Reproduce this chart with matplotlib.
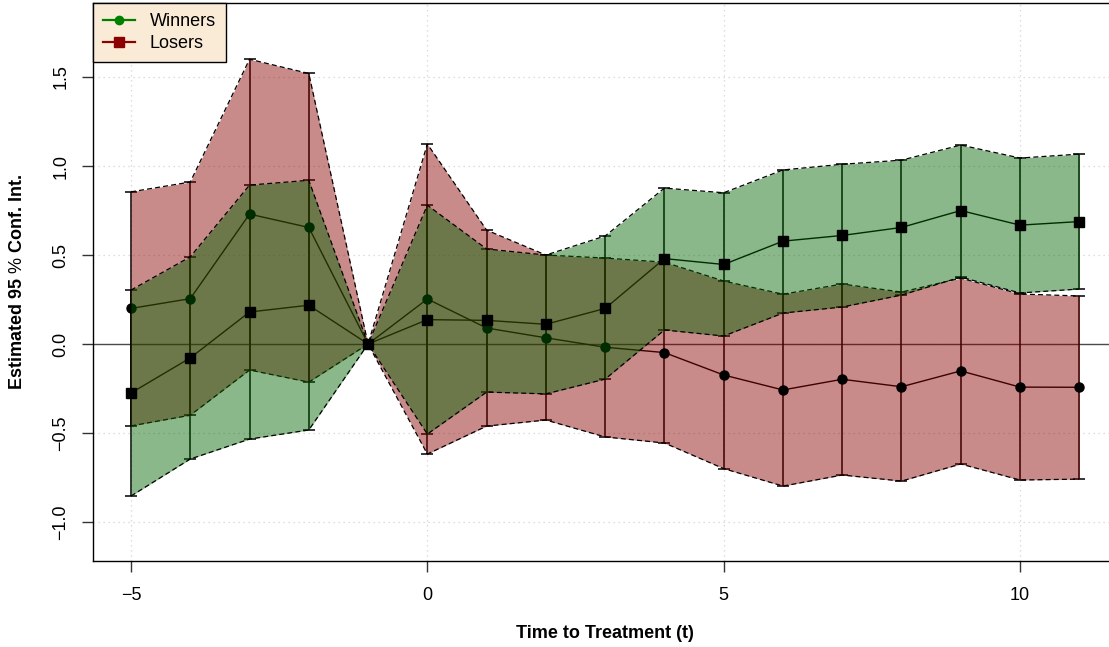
import numpy as np
import matplotlib
matplotlib.use("Agg")
import matplotlib.pyplot as plt
from matplotlib.lines import Line2D

plt.rcParams['font.family'] = ['Liberation Sans', 'DejaVu Sans']
plt.rcParams['mathtext.fontset'] = 'custom'
plt.rcParams['mathtext.rm'] = 'Liberation Sans'
plt.rcParams['mathtext.it'] = 'Liberation Sans:italic'

# Event-time periods relative to treatment
t = np.arange(-5, 12)

# Winners: point estimates and 95% CI bounds
win_est = [0.20, 0.255, 0.73, 0.655, 0.0, 0.253, 0.09, 0.035, -0.018, -0.048,
           -0.174, -0.258, -0.198, -0.240, -0.151, -0.242, -0.243]
win_lo = [-0.46, -0.40, -0.146, -0.214, 0.0, -0.618, -0.461, -0.427, -0.522, -0.556,
          -0.70, -0.798, -0.736, -0.77, -0.674, -0.764, -0.759]
win_hi = [0.855, 0.91, 1.60, 1.52, 0.0, 1.124, 0.64, 0.50, 0.483, 0.46,
          0.354, 0.28, 0.337, 0.292, 0.37, 0.281, 0.27]

# Losers: point estimates and 95% CI bounds
los_est = [-0.275, -0.078, 0.18, 0.218, 0.0, 0.137, 0.133, 0.111, 0.20, 0.48,
           0.447, 0.578, 0.61, 0.655, 0.75, 0.668, 0.688]
los_lo = [-0.854, -0.646, -0.534, -0.483, 0.0, -0.506, -0.27, -0.28, -0.197, 0.079,
          0.045, 0.174, 0.208, 0.275, 0.376, 0.287, 0.309]
los_hi = [0.303, 0.49, 0.893, 0.92, 0.0, 0.78, 0.534, 0.50, 0.607, 0.876,
          0.85, 0.978, 1.01, 1.033, 1.118, 1.045, 1.067]

W, H = 1109, 647
fig = plt.figure(figsize=(W / 100, H / 100), dpi=100)
ax = fig.add_axes([93 / W, (H - 561) / H, 1024 / W, 558 / H])
ax.set_xlim(-5.641, 11.636)
ax.set_ylim(-1.219, 1.916)

ax.set_xticks([-5, 0, 5, 10])
ax.set_yticks([-1.0, -0.5, 0.0, 0.5, 1.0, 1.5])
ax.set_axisbelow(True)
ax.grid(True, color='#d3d3d3', linestyle=(0, (1, 3)), lw=0.9)
ax.axhline(0, color='#4a4a4a', lw=1.0, zorder=1.8)

def bars(est, lo, hi):
    lo, hi = np.asarray(lo), np.asarray(hi)
    ax.vlines(t, lo, hi, color='black', lw=1.1, zorder=2)
    m = hi > lo
    ax.plot(t[m], lo[m], ls='none', marker='_', ms=9, mew=1.1, color='black', zorder=2)
    ax.plot(t[m], hi[m], ls='none', marker='_', ms=9, mew=1.1, color='black', zorder=2)
    ax.plot(t, est, color='black', lw=1.0, zorder=2)

def band(lo, hi, col, z):
    ax.fill_between(t, lo, hi, color=col, alpha=0.46, lw=0, zorder=z)
    for b in (lo, hi):
        ax.plot(t, b, color='black', lw=0.9, ls=(0, (4, 2.5)), zorder=z)

bars(win_est, win_lo, win_hi)
bars(los_est, los_lo, los_hi)

band(win_lo, win_hi, '#8b0000', 3)
ax.plot(t, win_est, ls='none', marker='o', ms=6.5, color='black', zorder=4)
band(los_lo, los_hi, '#006400', 5)
ax.plot(t, los_est, ls='none', marker='s', ms=7.8, color='black', zorder=6)

for s in ax.spines.values():
    s.set_color('black')
    s.set_linewidth(1.0)

ax.tick_params(axis='both', length=8, width=1.0, labelsize=13, color='#333333')
ax.tick_params(axis='x', pad=11)
ax.tick_params(axis='y', pad=9)
for lab in ax.get_yticklabels():
    lab.set_rotation(90)
    lab.set_va('center')

fig.text(605 / W, 1 - 634 / H, 'Time to Treatment (t)', ha='center', va='center',
         fontsize=13, fontweight='bold')
fig.text(18 / W, 1 - 282 / H, r'Estimated 95 $\mathit{\%}$ Conf. Int.', ha='center',
         va='center', rotation=90, fontsize=13, fontweight='bold')

handles = [Line2D([0], [0], color='green', lw=1.6, marker='o', ms=6),
           Line2D([0], [0], color='#8b0000', lw=1.6, marker='s', ms=6.5)]
leg = ax.legend(handles, ['Winners', 'Losers'], loc='upper left', bbox_to_anchor=(0, 1),
                borderaxespad=0, fancybox=False, edgecolor='black', facecolor='#FAEBD7',
                framealpha=1, fontsize=13, handlelength=1.8, borderpad=0.55,
                labelspacing=0.3, handletextpad=0.8)
leg.get_frame().set_linewidth(1.0)
leg.set_zorder(10)

fig.savefig('out.png', dpi=100)
